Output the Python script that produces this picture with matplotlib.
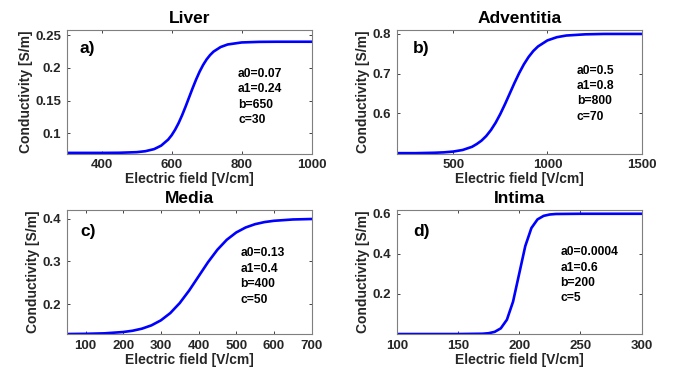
import matplotlib
matplotlib.use("Agg")
import matplotlib.pyplot as plt

plt.rcParams["font.family"] = ["Liberation Sans", "DejaVu Sans"]
plt.rcParams["font.weight"] = "bold"

# values
liver_x = [300, 400, 450, 500, 525, 550, 570, 590, 600, 610, 620, 630, 640, 650,
           660, 670, 680, 690, 700, 710, 720, 740, 760, 800, 850, 900, 1000]
liver_y = [0.070, 0.070, 0.0702, 0.0711, 0.0726, 0.0758, 0.0811, 0.0903, 0.0970,
           0.1055, 0.1157, 0.1277, 0.1410, 0.1550, 0.1690, 0.1823, 0.1943, 0.2045,
           0.2130, 0.2197, 0.2250, 0.2319, 0.2358, 0.2389, 0.2398, 0.2400, 0.2400]

adv_x = [200, 300, 400, 450, 500, 550, 600, 625, 650, 675, 700, 725, 750, 775, 800,
         825, 850, 875, 900, 925, 950, 1000, 1050, 1100, 1200, 1300, 1500]
adv_y = [0.500, 0.500, 0.501, 0.502, 0.504, 0.508, 0.516, 0.523, 0.5315, 0.543,
         0.558, 0.5765, 0.5986, 0.6235, 0.650, 0.6765, 0.7014, 0.7235, 0.742, 0.757,
         0.7685, 0.7837, 0.7918, 0.796, 0.799, 0.800, 0.800]

media_x = [50, 100, 150, 200, 225, 250, 275, 300, 325, 350, 375, 400, 425, 450, 475,
           500, 525, 550, 575, 600, 650, 700]
media_y = [0.1302, 0.1307, 0.1318, 0.1349, 0.1379, 0.1428, 0.1505, 0.1622, 0.1792,
           0.2026, 0.2319, 0.2650, 0.2981, 0.3274, 0.3508, 0.3678, 0.3795, 0.3872,
           0.3921, 0.3951, 0.3982, 0.3993]

intima_x = [100, 150, 170, 175, 180, 185, 190, 195, 200, 205, 210, 215, 220, 225, 230,
            250, 300]
intima_y = [0.0004, 0.0004, 0.0019, 0.0044, 0.0112, 0.0288, 0.0719, 0.1616, 0.3002,
            0.4390, 0.5289, 0.5720, 0.5896, 0.5964, 0.5989, 0.6000, 0.6000]

titles = ["Liver", "Adventitia", "Media", "Intima"]
tags = ["a)", "b)", "c)", "d)"]
params = ["a0=0.07\na1=0.24\nb=650\nc=30",
          "a0=0.5\na1=0.8\nb=800\nc=70",
          "a0=0.13\na1=0.4\nb=400\nc=50",
          "a0=0.0004\na1=0.6\nb=200\nc=5"]
xlims = [(300, 1000), (200, 1500), (50, 700), (100, 300)]
ylims = [(0.069, 0.258), (0.499, 0.81), (0.13, 0.42), (0.0, 0.618)]
xticks = [[400, 600, 800, 1000], [500, 1000, 1500],
          [100, 200, 300, 400, 500, 600, 700], [100, 150, 200, 250, 300]]
yticks = [[0.1, 0.15, 0.2, 0.25], [0.6, 0.7, 0.8], [0.2, 0.3, 0.4], [0.2, 0.4, 0.6]]
yticklabels = [["0.1", "0.15", "0.2", "0.25"], ["0.6", "0.7", "0.8"],
               ["0.2", "0.3", "0.4"], ["0.2", "0.4", "0.6"]]
series = [(liver_x, liver_y), (adv_x, adv_y), (media_x, media_y), (intima_x, intima_y)]

# [left, bottom, width, height] in figure fractions
boxes = [[0.0975, 0.585, 0.358, 0.334], [0.580, 0.585, 0.358, 0.334],
         [0.0975, 0.097, 0.358, 0.335], [0.580, 0.097, 0.358, 0.335]]
tag_pos = [(0.054, 0.85), (0.066, 0.85), (0.054, 0.825), (0.069, 0.825)]
par_pos = [(0.70, 0.695), (0.736, 0.72), (0.71, 0.70), (0.668, 0.71)]

fig = plt.figure(figsize=(6.84, 3.70), dpi=100)
for i in range(4):
    ax = fig.add_axes(boxes[i])
    x, y = series[i]
    ax.plot(x, y, color="#0000ff", lw=1.9)
    ax.set_xlim(*xlims[i])
    ax.set_ylim(*ylims[i])
    ax.set_xticks(xticks[i])
    ax.set_yticks(yticks[i])
    ax.set_yticklabels(yticklabels[i])
    ax.tick_params(direction="in", length=2.5, width=0.6, top=True, right=True,
                   labelsize=9.5, colors="#262626", pad=4)
    for s in ax.spines.values():
        s.set_color("#7f7f7f")
        s.set_linewidth(0.8)
    ax.set_title(titles[i], fontsize=12.5, fontweight="bold", pad=5)
    ax.set_xlabel("Electric field [V/cm]", fontsize=10, fontweight="bold",
                  color="#262626", labelpad=1)
    ax.set_ylabel("Conductivity [S/m]", fontsize=10, fontweight="bold",
                  color="#262626", labelpad=1.5)
    ax.text(*tag_pos[i], tags[i], transform=ax.transAxes, fontsize=12.5,
            fontweight="bold", va="center", ha="left")
    ax.text(*par_pos[i], params[i], transform=ax.transAxes, fontsize=8.7,
            fontweight="bold", va="top", ha="left", linespacing=1.38)

fig.savefig("out.png", dpi=100)
